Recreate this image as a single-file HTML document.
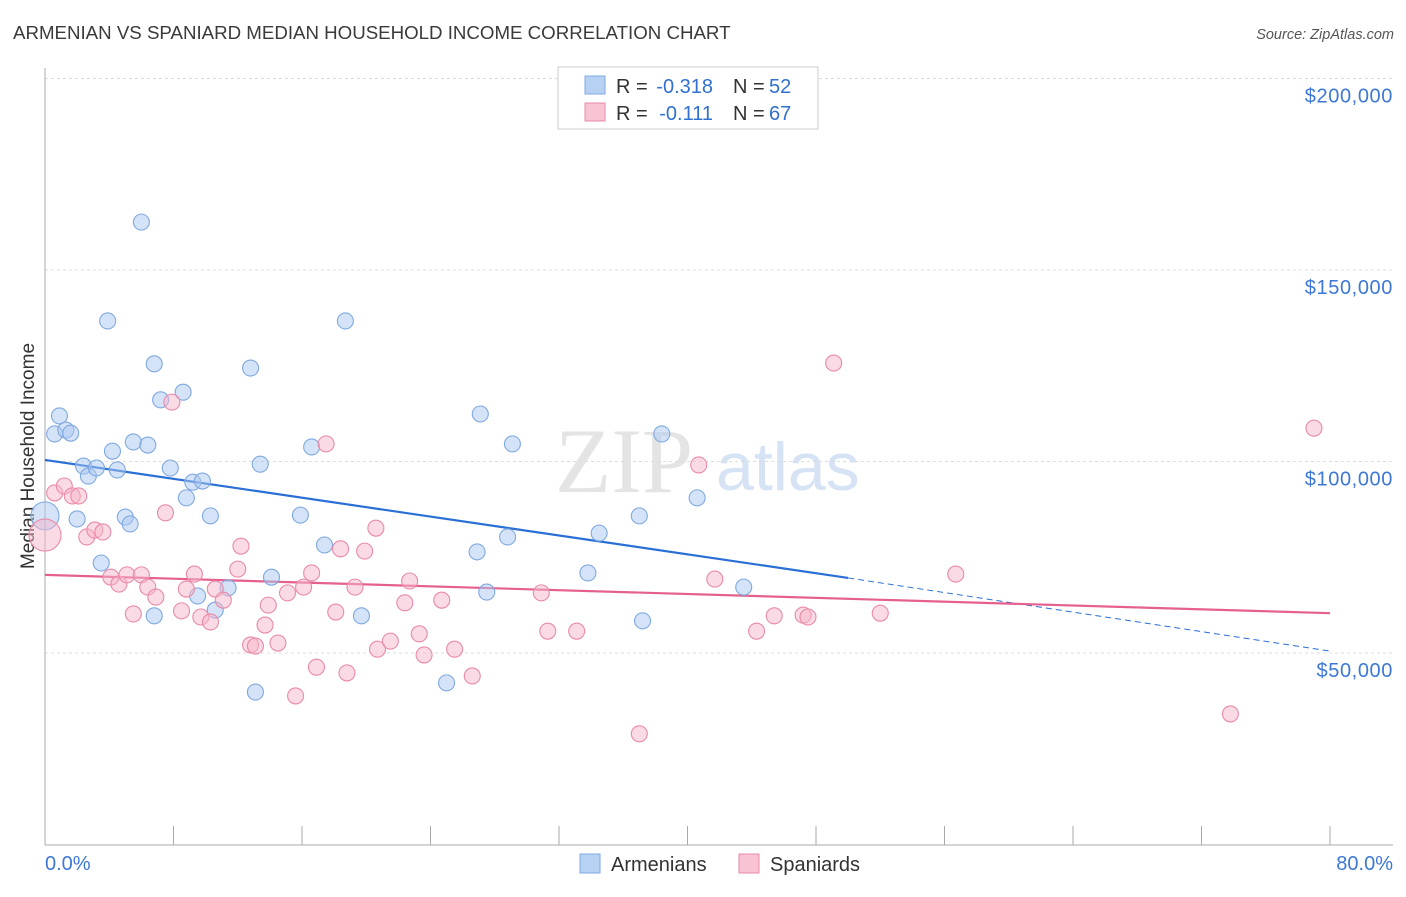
<!DOCTYPE html>
<html><head><meta charset="utf-8"><style>
body{margin:0;background:#fff;font-family:"Liberation Sans",sans-serif;}
</style></head><body>
<svg id="chart" width="1406" height="892" xmlns="http://www.w3.org/2000/svg" font-family="Liberation Sans, sans-serif">
<text x="13" y="39" font-size="18.7" fill="#3a3a3a">ARMENIAN VS SPANIARD MEDIAN HOUSEHOLD INCOME CORRELATION CHART</text>
<text x="1394" y="39" font-size="14.5" fill="#555" text-anchor="end" font-style="italic">Source: ZipAtlas.com</text>
<text x="555" y="492" font-size="92" fill="#e4e4e4" font-family="Liberation Serif, serif">ZIP</text>
<text x="716" y="490" font-size="68" fill="#d6e3f4">atlas</text>
<g id="grid"></g><g id="axes"></g>
<text transform="translate(34,456) rotate(-90)" font-size="19" fill="#333" text-anchor="middle">Median Household Income</text>
<g id="trends"></g><g id="points"></g>
<g>
<rect x="558" y="67" width="260" height="62" fill="#fff" stroke="#ccc"/>
<rect x="585" y="76" width="20" height="18" fill="#b7d1f3" stroke="#7fa9e0"/>
<rect x="585" y="103" width="20" height="18" fill="#f8c3d3" stroke="#e98aa8"/>
<text x="616" y="93" font-size="20" fill="#333">R =</text>
<text x="713" y="93" font-size="20" fill="#3070d0" text-anchor="end">-0.318</text>
<text x="733" y="93" font-size="20" fill="#333">N =</text>
<text x="769" y="93" font-size="20" fill="#3070d0">52</text>
<text x="616" y="120" font-size="20" fill="#333">R =</text>
<text x="713" y="120" font-size="20" fill="#3070d0" text-anchor="end">-0.111</text>
<text x="733" y="120" font-size="20" fill="#333">N =</text>
<text x="769" y="120" font-size="20" fill="#3070d0">67</text>
</g>
<g>
<rect x="580" y="854" width="20" height="19" fill="#b7d1f3" stroke="#7fa9e0"/>
<text x="611" y="871" font-size="20" fill="#333">Armenians</text>
<rect x="739" y="854" width="20" height="19" fill="#f8c3d3" stroke="#e98aa8"/>
<text x="770" y="871" font-size="20" fill="#333">Spaniards</text>
</g>
</svg>
<script>
const yTicks=[50,100,150,200];
const yTickLabels=["$50,000","$100,000","$150,000","$200,000"];
const xTickLabels=["0.0%","80.0%"];
const armX=[0,0.6,0.9,1.3,1.6,2.0,2.4,2.7,3.2,3.5,3.9,4.2,4.5,5.0,5.3,5.5,6.0,6.4,6.8,6.8,7.2,7.8,8.6,8.8,9.2,9.5,9.8,10.3,10.6,11.4,12.8,13.1,13.4,14.1,15.9,16.6,17.4,18.7,19.7,25.0,26.9,27.1,27.5,28.8,29.1,33.8,34.5,37.0,37.2,38.4,40.6,43.5];
const armY=[85.8,107.2,111.9,108.2,107.4,85.0,98.8,96.2,98.3,73.5,136.7,102.7,97.8,85.5,83.7,105.1,162.5,104.3,125.5,59.7,116.1,98.3,118.1,90.5,94.6,64.9,94.9,85.8,61.2,67.0,124.4,39.8,99.3,69.8,86.0,103.8,78.2,136.7,59.7,42.2,76.4,112.4,65.9,80.3,104.6,70.9,81.3,85.8,58.4,107.2,90.5,67.2];
const spaX=[0,0.6,1.2,1.7,2.1,2.6,3.1,3.6,4.1,4.6,5.1,5.5,6.0,6.4,6.9,7.5,7.9,8.5,8.8,9.3,9.7,10.3,10.6,11.1,12.0,12.2,12.8,13.1,13.7,13.9,14.5,15.1,15.6,16.1,16.6,16.9,17.5,18.1,18.4,18.8,19.3,19.9,20.6,20.7,21.5,22.4,22.7,23.3,23.6,24.7,25.5,26.6,30.9,31.3,33.1,37.0,40.7,41.7,44.3,45.4,47.2,47.5,49.1,52.0,56.7,73.8,79.0];
const spaY=[80.8,91.8,93.6,91.0,91.0,80.3,82.1,81.6,69.8,68.0,70.4,60.2,70.4,67.2,64.6,86.6,115.5,61.0,66.7,70.6,59.4,58.1,66.7,63.8,71.9,77.9,52.1,51.8,57.3,62.5,52.6,65.7,38.8,67.2,70.9,46.3,104.6,60.7,77.2,44.8,67.2,76.6,82.6,51.0,53.1,63.1,68.8,55.0,49.5,63.8,51.0,44.0,65.7,55.7,55.7,28.9,99.1,69.3,55.7,59.7,59.9,59.4,125.7,60.4,70.6,34.1,108.7];
const armTrend=[100.4,69.6,50.5]; // at x=0,50,80
const spaTrend=[70.4,60.4]; // at x=0,80
const NS="http://www.w3.org/2000/svg";
const X=v=>45+v*1285/80, Y=v=>653-(v-50)*3.83;
function mk(t,a,p){const e=document.createElementNS(NS,t);for(const k in a)e.setAttribute(k,a[k]);document.getElementById(p).appendChild(e);return e;}
yTicks.forEach((t,i)=>{
 const g=mk('line',{x1:45,x2:1393,y1:Y(t),y2:Y(t),stroke:'#ddd','stroke-dasharray':'3,3'},'grid');
 
 
 const l=mk('text',{x:1393,y:Y(t)+24,'font-size':20,'letter-spacing':0.6,fill:'#3d78d6','text-anchor':'end'},'grid');
 l.textContent=yTickLabels[i];
 
 
});
const ax=mk('line',{x1:45,x2:1393,y1:845,y2:845,stroke:'#aaa'},'axes');


const ay=mk('line',{x1:45,x2:45,y1:68,y2:845,stroke:'#aaa'},'axes');


for(let i=0;i<=10;i++){const t=mk('line',{x1:X(i*8),x2:X(i*8),y1:826,y2:845,stroke:'#aaa'},'axes');
 
 }
[[0,45,'start'],[80,1393,'end']].forEach((d,i)=>{const l=mk('text',{x:d[1],y:870,'font-size':20,fill:'#3d78d6','text-anchor':d[2]},'axes');l.textContent=xTickLabels[i];
 
 });
function pts(xs,ys,fill,stroke,name,big){xs.forEach((x,i)=>{const r=i==0?big:8;const c=mk('circle',{cx:X(x),cy:Y(ys[i]),r:r,fill:fill,'fill-opacity':0.5,stroke:stroke,'stroke-width':1.1},'points');
 
 });}
pts(armX,armY,'#a9c8f0','#7fa9e0','armenian-point',14);
pts(spaX,spaY,'#f5b6c9','#e98aa8','spaniard-point',16);
let t1=mk('line',{x1:X(0),y1:Y(armTrend[0]),x2:X(50),y2:Y(armTrend[1]),stroke:'#2a6fd6','stroke-width':2.2},'trends');


let t2=mk('line',{x1:X(50),y1:Y(armTrend[1]),x2:X(80),y2:Y(armTrend[2]),stroke:'#2a6fd6','stroke-width':1,'stroke-dasharray':'6,4'},'trends');


let t3=mk('line',{x1:X(0),y1:Y(spaTrend[0]),x2:X(80),y2:Y(spaTrend[1]),stroke:'#e5608e','stroke-width':2.2},'trends');


</script>
</body></html>
